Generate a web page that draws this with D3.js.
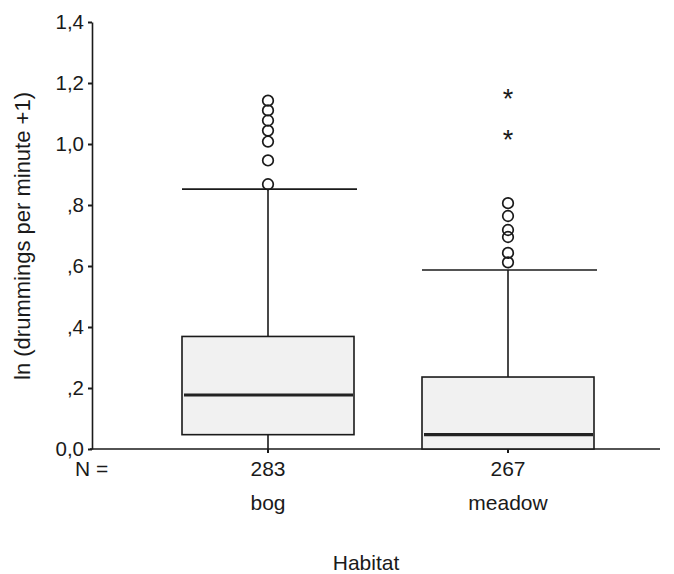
<!DOCTYPE html>
<html>
<head>
<meta charset="utf-8">
<script src="https://cdn.jsdelivr.net/npm/d3@7"></script>
<style>
  html, body { margin: 0; padding: 0; background: #fff; }
  svg { display: block; font-family: "Liberation Sans", Arial, Helvetica, sans-serif; }
</style>
</head>
<body>
<svg id="chart" width="674" height="574"></svg>
<script>
// Habitat groups and their sample sizes
const categories = ["bog", "meadow"];
const counts = [283, 267];

// Box-plot summary per habitat: ln(drummings per minute + 1)
const whiskerLow = [0.0, 0.0];
const q1 = [0.047, 0.0];
const median = [0.177, 0.047];
const q3 = [0.369, 0.236];
const whiskerHigh = [0.852, 0.587];

// Outliers (circles) and extreme values (asterisks)
const outliers = [
  [1.142, 1.110, 1.077, 1.044, 1.008, 0.946, 0.868],
  [0.806, 0.764, 0.718, 0.695, 0.643, 0.612]
];
const extremes = [
  [],
  [1.153, 1.019]
];

// Axis ticks
const yTicks = [0, 0.2, 0.4, 0.6, 0.8, 1.0, 1.2, 1.4];
const yTickLabels = ["0,0", ",2", ",4", ",6", ",8", "1,0", "1,2", "1,4"];

const svg = d3.select("#chart");
const ink = "#1a1a1a";

const y = d3.scaleLinear().domain([0, 1.4]).range([449, 22]);
const x = d3.scaleBand().domain(categories).range([148, 628]).paddingInner(0).paddingOuter(0);
const boxW = 172;
const cx = c => x(c) + x.bandwidth() / 2;

// Y axis
const yAxis = d3.axisLeft(y)
  .tickValues(yTicks)
  .tickFormat((d, i) => yTickLabels[i])
  .tickSizeInner(4)
  .tickSizeOuter(0)
  .tickPadding(4);
const gy = svg.append("g").attr("transform", "translate(92,0)").call(yAxis);
gy.select(".domain").attr("stroke", ink).attr("stroke-width", 1.6);
gy.selectAll(".tick line").attr("stroke", ink).attr("stroke-width", 2);
gy.selectAll(".tick text").attr("font-size", 20.5).attr("fill", ink)
  .attr("font-family", "Liberation Sans, Arial, sans-serif");

// X axis baseline with category ticks
const gx = svg.append("g").attr("transform", `translate(0,${y(0)})`);
gx.append("line").attr("x1", 90).attr("x2", 660).attr("y1", 0).attr("y2", 0)
  .attr("stroke", ink).attr("stroke-width", 1.6);
gx.selectAll("line.tk").data(categories).join("line")
  .attr("class", "tk")
  .attr("x1", d => cx(d)).attr("x2", d => cx(d))
  .attr("y1", 0).attr("y2", 4)
  .attr("stroke", ink).attr("stroke-width", 2);

// Boxes
const g = svg.append("g");
categories.forEach((c, i) => {
  const xc = cx(c);
  const x0 = xc - boxW / 2;
  // upper whisker
  g.append("line").attr("x1", xc).attr("x2", xc)
    .attr("y1", y(q3[i])).attr("y2", y(whiskerHigh[i]))
    .attr("stroke", ink).attr("stroke-width", 1.6);
  g.append("line").attr("x1", x0).attr("x2", x0 + boxW + 3)
    .attr("y1", y(whiskerHigh[i])).attr("y2", y(whiskerHigh[i]))
    .attr("stroke", ink).attr("stroke-width", 1.6);
  // lower whisker
  if (q1[i] > whiskerLow[i]) {
    g.append("line").attr("x1", xc).attr("x2", xc)
      .attr("y1", y(q1[i])).attr("y2", y(whiskerLow[i]))
      .attr("stroke", ink).attr("stroke-width", 1.6);
  }
  // box
  g.append("rect")
    .attr("x", x0).attr("y", y(q3[i]))
    .attr("width", boxW).attr("height", y(q1[i]) - y(q3[i]))
    .attr("fill", "#f1f1f1").attr("stroke", ink).attr("stroke-width", 1.6);
  // median
  g.append("line").attr("x1", x0 + 2).attr("x2", x0 + boxW - 1)
    .attr("y1", y(median[i])).attr("y2", y(median[i]))
    .attr("stroke", "#222").attr("stroke-width", 3.2);
  // outliers
  g.selectAll(null).data(outliers[i]).join("circle")
    .attr("cx", xc).attr("cy", d => y(d)).attr("r", 5.3)
    .attr("fill", "none").attr("stroke", ink).attr("stroke-width", 1.7);
  // extremes
  g.selectAll(null).data(extremes[i]).join("text")
    .attr("x", xc).attr("y", d => y(d) + 11)
    .attr("text-anchor", "middle").attr("font-size", 27).attr("fill", ink)
    .text("*");
});

// N = row and category names
svg.append("text").attr("x", 75).attr("y", 476).attr("font-size", 21).attr("fill", ink).text("N =");
svg.selectAll("text.n").data(categories).join("text")
  .attr("class", "n")
  .attr("x", d => cx(d)).attr("y", 476)
  .attr("text-anchor", "middle").attr("font-size", 21).attr("fill", ink)
  .text((d, i) => counts[i]);
svg.selectAll("text.cat").data(categories).join("text")
  .attr("class", "cat")
  .attr("x", d => cx(d)).attr("y", 510)
  .attr("text-anchor", "middle").attr("font-size", 21).attr("fill", ink)
  .text(d => d);

// Axis titles
svg.append("text").attr("x", 366).attr("y", 570)
  .attr("text-anchor", "middle").attr("font-size", 21).attr("fill", ink).text("Habitat");
svg.append("text")
  .attr("transform", "translate(30,236) rotate(-90)")
  .attr("text-anchor", "middle").attr("font-size", 22).attr("fill", ink)
  .text("ln (drummings per minute +1)");
</script>
</body>
</html>
